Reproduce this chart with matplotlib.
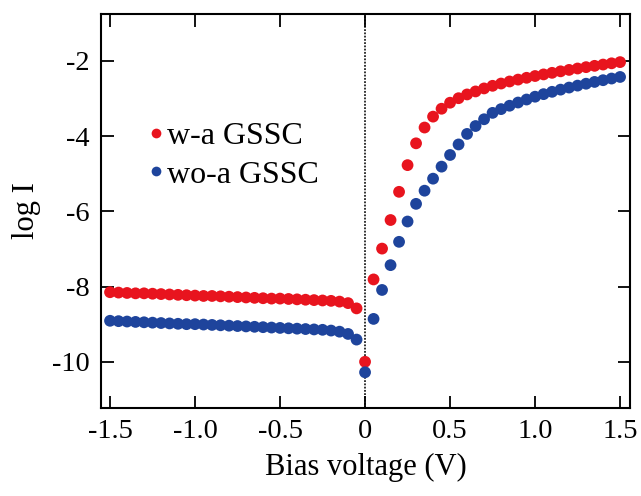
import matplotlib
matplotlib.use("Agg")
import matplotlib.pyplot as plt
from matplotlib.lines import Line2D

plt.rcParams['font.family'] = ['Liberation Serif', 'DejaVu Serif']
plt.rcParams['axes.unicode_minus'] = False

voltage = [round(-1.5 + 0.05 * i, 2) for i in range(61)]

w_a_gssc = [
    -8.15, -8.16, -8.17, -8.18, -8.18, -8.19, -8.20, -8.21, -8.22, -8.23,
    -8.24, -8.25, -8.25, -8.26, -8.27, -8.28, -8.29, -8.30, -8.31, -8.32,
    -8.32, -8.33, -8.34, -8.35, -8.36, -8.37, -8.38, -8.40, -8.44, -8.58,
    -10.00,
    -7.81, -6.99, -6.23, -5.48, -4.77, -4.19, -3.77, -3.48, -3.27, -3.11,
    -2.99, -2.89, -2.81, -2.73, -2.66, -2.60, -2.545, -2.495, -2.447, -2.40,
    -2.357, -2.315, -2.275, -2.237, -2.20, -2.164, -2.129, -2.095, -2.062, -2.03,
]

wo_a_gssc = [
    -8.91, -8.92, -8.93, -8.94, -8.95, -8.96, -8.97, -8.98, -8.99, -9.00,
    -9.00, -9.01, -9.02, -9.03, -9.04, -9.05, -9.06, -9.07, -9.08, -9.09,
    -9.10, -9.11, -9.12, -9.13, -9.14, -9.15, -9.17, -9.20, -9.26, -9.41,
    -10.28,
    -8.86, -8.09, -7.43, -6.81, -6.27, -5.80, -5.45, -5.13, -4.81, -4.50,
    -4.22, -3.94, -3.73, -3.55, -3.38, -3.28, -3.19, -3.105, -3.025, -2.95,
    -2.882, -2.82, -2.762, -2.707, -2.655, -2.605, -2.557, -2.511, -2.467, -2.425,
]

series_labels = ["w-a GSSC", "wo-a GSSC"]
series_colors = ["#E8141E", "#1E449C"]

x_ticks = [-1.5, -1.0, -0.5, 0, 0.5, 1.0, 1.5]
x_tick_labels = ["-1.5", "-1.0", "-0.5", "0", "0.5", "1.0", "1.5"]
y_ticks = [-2, -4, -6, -8, -10]
y_tick_labels = ["-2", "-4", "-6", "-8", "-10"]

fig = plt.figure(figsize=(6.41, 4.96), dpi=100)
ax = fig.add_axes([0.1576, 0.1774, 0.8254, 0.7944])

ax.axvline(0, color="#222222", linestyle=(0, (1, 0.8)), linewidth=1.3, zorder=1)

for ys, c in zip([w_a_gssc, wo_a_gssc], series_colors):
    ax.scatter(voltage, ys, s=72, color=c, edgecolors="none", zorder=3)

ax.set_xlim(-1.553, 1.559)
ax.set_ylim(-11.23, -0.75)
ax.set_xticks(x_ticks)
ax.set_xticklabels(x_tick_labels)
ax.set_yticks(y_ticks)
ax.set_yticklabels(y_tick_labels)

ax.tick_params(direction="in", length=9, width=1.3, labelsize=20.5,
               top=True, right=True, pad=8)
for s in ax.spines.values():
    s.set_linewidth(1.5)

ax.set_xlabel("Bias voltage (V)", fontsize=22, labelpad=6)
ax.set_ylabel("log I", fontsize=22, labelpad=8)

handles = [Line2D([], [], linestyle="none", marker="o", markersize=7,
                  color=c, markeredgewidth=0) for c in series_colors]
ax.legend(handles, series_labels, loc="upper left",
          bbox_to_anchor=(0.07, 0.76), frameon=False, fontsize=23,
          handlelength=0.35, handletextpad=0.15, labelspacing=0.3,
          borderaxespad=0)

fig.savefig("out.png", dpi=100)
